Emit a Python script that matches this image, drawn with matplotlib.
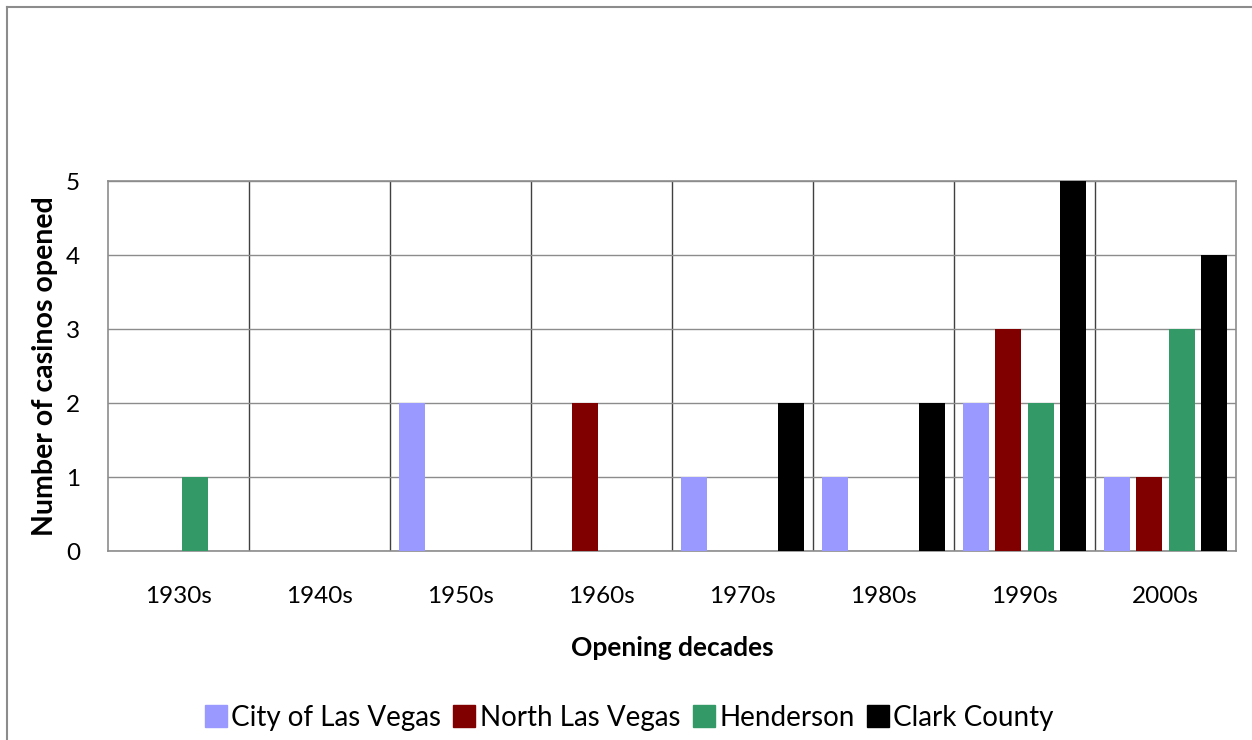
import numpy as np
import matplotlib.pyplot as plt
from matplotlib.lines import Line2D

decades = ["1930s", "1940s", "1950s", "1960s", "1970s", "1980s", "1990s", "2000s"]
series = ["City of Las Vegas", "North Las Vegas", "Henderson", "Clark County"]
city_lv = [0, 0, 2, 0, 1, 1, 2, 1]
north_lv = [0, 0, 0, 2, 0, 0, 3, 1]
henderson = [1, 0, 0, 0, 0, 0, 2, 3]
clark = [0, 0, 0, 0, 2, 2, 5, 4]
colors = ["#9999FF", "#800000", "#339966", "#000000"]

plt.rcParams['font.family'] = ['Lato', 'DejaVu Sans']

fig = plt.figure(figsize=(12.52, 7.4), dpi=100)
ax = fig.add_axes([108 / 1252, 1 - 551 / 740, (1236 - 108) / 1252, (551 - 181) / 740])

x = np.arange(len(decades))
step = 0.23
width = 0.184
for i, (vals, c) in enumerate(zip([city_lv, north_lv, henderson, clark], colors)):
    ax.bar(x + (i - 1.5) * step, vals, width=width, color=c, zorder=3)

ax.set_xlim(-0.5, len(decades) - 0.5)
ax.set_ylim(0, 5)
ax.set_yticks(range(6))
ax.set_xticks(x)
ax.set_xticklabels(decades, fontsize=17.5)
ax.tick_params(axis='y', labelsize=17.5, length=0, pad=20)
ax.tick_params(axis='x', length=0, pad=25)

# gridlines
ax.grid(axis='y', color='#8c8c8c', linewidth=1, zorder=0)
for b in np.arange(0.5, len(decades) - 0.5, 1):
    ax.axvline(b, color='#404040', linewidth=1, zorder=1)
for s in ax.spines.values():
    s.set_color('#8c8c8c')
    s.set_linewidth(1.2)

ax.set_xlabel("Opening decades", fontsize=19, fontweight='bold')
ax.set_ylabel("Number of casinos opened", fontsize=20.5, fontweight='bold')
ax.xaxis.set_label_coords((672 - 108) / 1128, (551 - 648) / 370)
ax.xaxis.label.set_va('center')
ax.yaxis.set_label_coords((45 - 108) / 1128, 0.5)
ax.yaxis.label.set_va('center')

handles = [Line2D([], [], marker='s', linestyle='none', markersize=16, color=c) for c in colors]
fig.legend(handles, series, loc='center', bbox_to_anchor=(627 / 1252, 1 - 718 / 740),
           ncol=4, frameon=False, fontsize=20, handletextpad=0.0, columnspacing=0.3,
           handlelength=1.1)

# outer frame (top and left edges visible)
fig.add_artist(Line2D([7 / 1252, 7 / 1252], [0, 1 - 7 / 740], color='#8c8c8c', linewidth=1.5, transform=fig.transFigure))
fig.add_artist(Line2D([7 / 1252, 1], [1 - 7 / 740, 1 - 7 / 740], color='#8c8c8c', linewidth=1.5, transform=fig.transFigure))

fig.savefig("out.png", dpi=100)
